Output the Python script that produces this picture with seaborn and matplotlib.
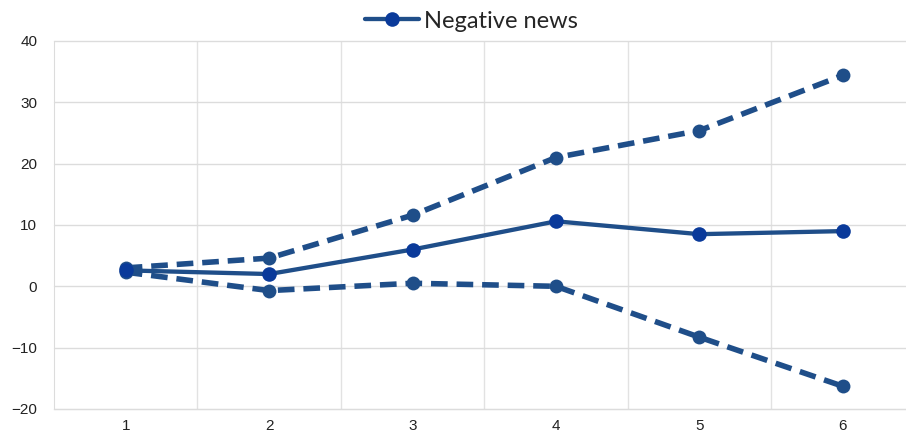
import pandas as pd
import numpy as np
import matplotlib.pyplot as plt
import seaborn as sns

periods = [1, 2, 3, 4, 5, 6]
negative_news = [2.6, 2.0, 6.0, 10.6, 8.5, 9.0]
upper_band = [3.0, 4.6, 11.6, 21.0, 25.4, 34.4]
lower_band = [2.3, -0.7, 0.5, 0.0, -8.3, -16.3]

df = pd.DataFrame({'period': periods, 'mid': negative_news,
                   'upper': upper_band, 'lower': lower_band})

line_col = '#1f4e89'
mark_col = '#0a3a9a'

sns.set_style('white')
plt.rcParams['font.family'] = ['Liberation Sans', 'DejaVu Sans']

fig = plt.figure(figsize=(9.06, 4.36), dpi=100)
ax = fig.add_axes([0.0596, 0.062, 0.9404, 0.844])

for col in ['upper', 'lower']:
    sns.lineplot(data=df, x='period', y=col, ax=ax, color=line_col, lw=4.0,
                 marker='o', markersize=10, markeredgewidth=0,
                 markerfacecolor=line_col, dashes=False, zorder=3)
    ax.lines[-1].set_dashes((3.0, 1.6))

sns.lineplot(data=df, x='period', y='mid', ax=ax, color=line_col, lw=3.1,
             marker='o', markersize=10.5, markeredgewidth=0,
             markerfacecolor=mark_col, label='Negative news', zorder=4)

ax.set_xlim(0.5, 6.44)
ax.set_ylim(-20, 40)
ax.set_yticks(np.arange(-20, 41, 10))
ax.set_xticks(periods)
ax.set_xticks(np.arange(1.5, 6, 1), minor=True)
ax.grid(True, which='major', axis='y', color='#dcdcdc', lw=1, clip_on=False)
ax.grid(True, which='minor', axis='x', color='#e2e2e2', lw=1)
ax.grid(False, which='major', axis='x')
ax.set_axisbelow(True)
for s in ['top', 'right']:
    ax.spines[s].set_visible(False)
ax.spines['left'].set_color('#dcdcdc')
ax.spines['bottom'].set_color('#dcdcdc')
ax.tick_params(axis='both', which='both', length=0, labelsize=11, colors='#222222')
ax.tick_params(axis='y', pad=12)
ax.tick_params(axis='x', pad=7)
ax.set_xlabel('')
ax.set_ylabel('')

leg = ax.legend(loc='upper center', bbox_to_anchor=(0.49, 1.14), frameon=False,
                prop={'family': 'Lato', 'size': 17}, handlelength=2.3,
                handletextpad=0.2)

fig.savefig('out.png', dpi=100)
